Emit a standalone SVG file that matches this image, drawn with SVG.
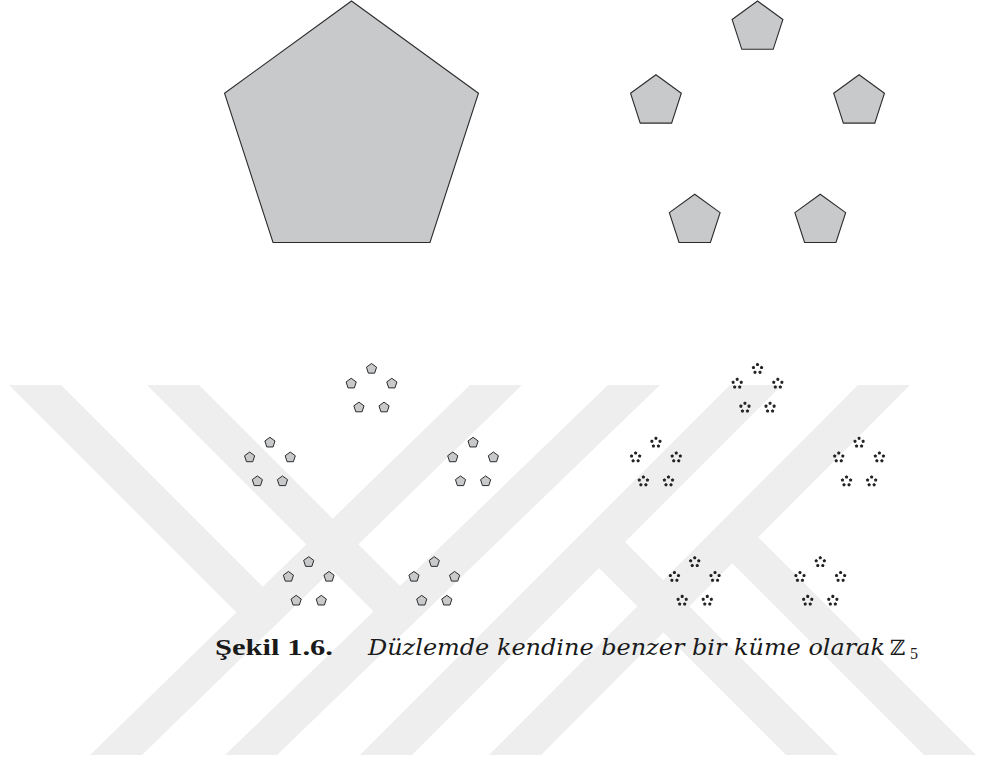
<svg xmlns="http://www.w3.org/2000/svg" xmlns:xlink="http://www.w3.org/1999/xlink" width="984" height="760" viewBox="0 0 984 760">
  <style>
    .wm { fill: #eeeeee; }
    .pent { fill: #c8c9cb; stroke: #2b2b2b; stroke-linejoin: miter; }
    .dots { fill: #222222; stroke: #222222; }
  </style>
  <defs>
    <!-- regular pentagons centred on the origin, circumradius 133.5 and its 1/5, 1/25, 1/125 -->
    <path id="p0" d="M0,-133.5 L126.967,-41.254 L78.47,108.004 L-78.47,108.004 L-126.967,-41.254 Z"/>
    <path id="p1" d="M0,-26.7 L25.393,-8.251 L15.694,21.601 L-15.694,21.601 L-25.393,-8.251 Z"/>
    <path id="p2" d="M0,-5.34 L5.079,-1.65 L3.139,4.32 L-3.139,4.32 L-5.079,-1.65 Z"/>
    <path id="p3" d="M0,-1.068 L1.016,-0.33 L0.628,0.864 L-0.628,0.864 L-1.016,-0.33 Z"/>
    <!-- five copies of p2 around a centre (offsets 0.16 R) -->
    <g id="c2">
      <use xlink:href="#p2" x="0" y="-21.36"/>
      <use xlink:href="#p2" x="20.315" y="-6.601"/>
      <use xlink:href="#p2" x="12.555" y="17.281"/>
      <use xlink:href="#p2" x="-12.555" y="17.281"/>
      <use xlink:href="#p2" x="-20.315" y="-6.601"/>
    </g>
    <!-- five copies of p3 around a centre (offsets 0.032 R) -->
    <g id="c3a">
      <use xlink:href="#p3" x="0" y="-4.272"/>
      <use xlink:href="#p3" x="4.063" y="-1.32"/>
      <use xlink:href="#p3" x="2.511" y="3.456"/>
      <use xlink:href="#p3" x="-2.511" y="3.456"/>
      <use xlink:href="#p3" x="-4.063" y="-1.32"/>
    </g>
    <!-- 25 copies of p3 -->
    <g id="c3">
      <use xlink:href="#c3a" x="0" y="-21.36"/>
      <use xlink:href="#c3a" x="20.315" y="-6.601"/>
      <use xlink:href="#c3a" x="12.555" y="17.281"/>
      <use xlink:href="#c3a" x="-12.555" y="17.281"/>
      <use xlink:href="#c3a" x="-20.315" y="-6.601"/>
    </g>
  </defs>

  <rect width="984" height="760" fill="#ffffff"/>

  <!-- light background stripes -->
  <g id="watermark" class="wm">
    <polygon points="470,385 522,385 142,755 90,755"/>
    <polygon points="608,385 660,385 277,755 225,755"/>
    <polygon points="730,385 782,385 412,755 360,755"/>
    <polygon points="858,385 910,385 541,755 489,755"/>
    <polygon points="9,385 61,385 275.6,599.6 249,625"/>
    <polygon points="147,385 199,385 412.8,598.8 386.3,624.3"/>
    <polygon points="786,755 838,755 612,529 586,555"/>
    <polygon points="924,755 976,755 744.5,523.5 718.5,549.5"/>
  </g>

  <!-- step 0: one pentagon -->
  <g id="level0" class="pent" stroke-width="1.1">
    <use xlink:href="#p0" x="351.5" y="134.5"/>
  </g>

  <!-- step 1: five pentagons scaled by 1/5 -->
  <g id="level1" class="pent" stroke-width="1.1">
    <use xlink:href="#p1" x="757.5" y="27.7"/>
    <use xlink:href="#p1" x="859.073" y="101.497"/>
    <use xlink:href="#p1" x="820.276" y="220.903"/>
    <use xlink:href="#p1" x="694.724" y="220.903"/>
    <use xlink:href="#p1" x="655.927" y="101.497"/>
  </g>

  <!-- step 2: 25 pentagons -->
  <g id="level2" class="pent" stroke-width="1">
    <use xlink:href="#c2" x="371.5" y="390.2"/>
    <use xlink:href="#c2" x="473.073" y="463.997"/>
    <use xlink:href="#c2" x="434.276" y="583.403"/>
    <use xlink:href="#c2" x="308.724" y="583.403"/>
    <use xlink:href="#c2" x="269.927" y="463.997"/>
  </g>

  <!-- step 3: 125 pentagons, small enough to read as dots -->
  <g id="level3" class="dots" stroke-width="1.2">
    <use xlink:href="#c3" x="757.5" y="390.2"/>
    <use xlink:href="#c3" x="859.073" y="463.997"/>
    <use xlink:href="#c3" x="820.276" y="583.403"/>
    <use xlink:href="#c3" x="694.724" y="583.403"/>
    <use xlink:href="#c3" x="655.927" y="463.997"/>
  </g>

  <!-- caption -->
  <g id="caption" fill="#1a1a1a">
    <text x="215" y="655" font-family="'Liberation Serif', serif" font-size="24" font-weight="bold" textLength="118" lengthAdjust="spacingAndGlyphs">Şekil 1.6.</text>
    <text x="368" y="655" font-family="'DejaVu Serif', serif" font-size="22" font-style="italic" textLength="517" lengthAdjust="spacingAndGlyphs">Düzlemde kendine benzer bir küme olarak</text>
    <text x="890" y="655" font-family="'DejaVu Serif', serif" font-size="21">ℤ</text>
    <text x="910" y="659" font-family="'Liberation Serif', serif" font-size="16">5</text>
  </g>
</svg>
